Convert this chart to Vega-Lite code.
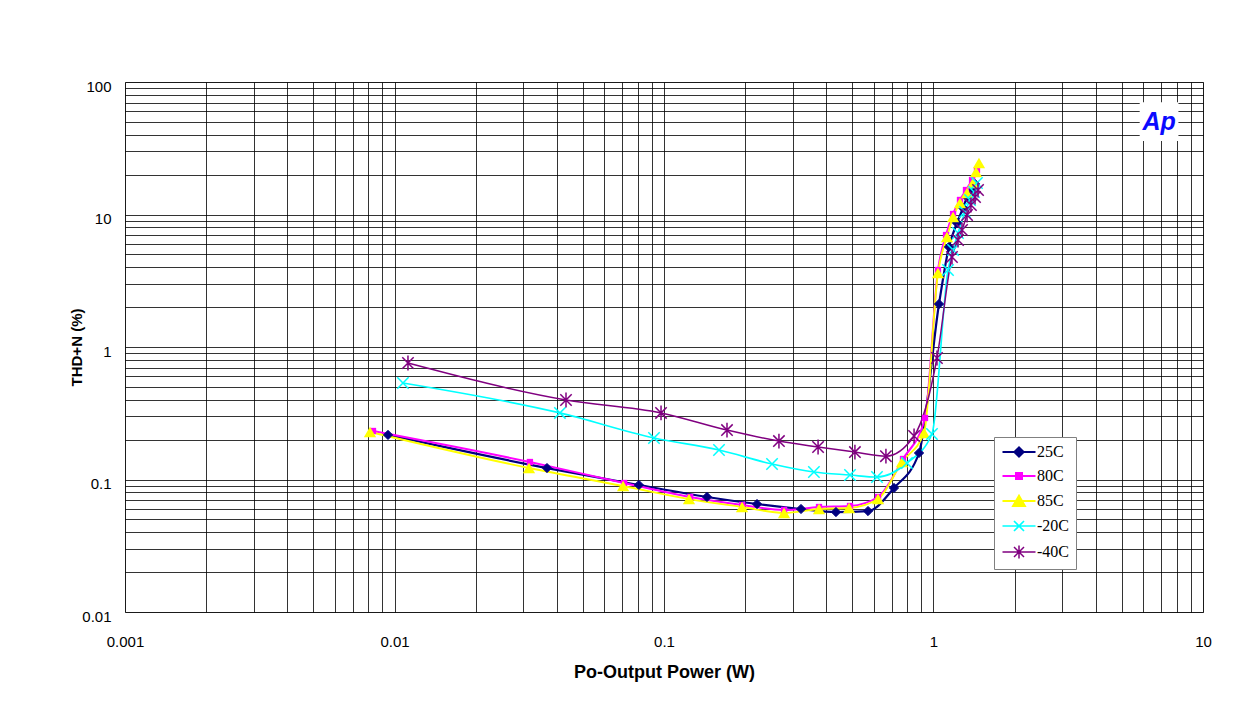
{
  "$schema": "https://vega.github.io/schema/vega-lite/v6.json",
  "width": 1078,
  "height": 530,
  "autosize": {"type": "none"},
  "padding": {"left": 125, "top": 82, "right": 40, "bottom": 106},
  "background": "white",
  "config": {"view": {"stroke": "#808080", "strokeWidth": 1}, "font": "Liberation Sans"},
  "datasets": {
    "thd": [
      {"s": "25C", "x": 0.00946, "y": 0.217},
      {"s": "25C", "x": 0.0368, "y": 0.122},
      {"s": "25C", "x": 0.0807, "y": 0.0909},
      {"s": "25C", "x": 0.1444, "y": 0.0738},
      {"s": "25C", "x": 0.2214, "y": 0.0653},
      {"s": "25C", "x": 0.3224, "y": 0.0599},
      {"s": "25C", "x": 0.4346, "y": 0.0568},
      {"s": "25C", "x": 0.5715, "y": 0.0578},
      {"s": "25C", "x": 0.7135, "y": 0.0863},
      {"s": "25C", "x": 0.8835, "y": 0.1585},
      {"s": "25C", "x": 1.048, "y": 2.11},
      {"s": "25C", "x": 1.141, "y": 5.69},
      {"s": "25C", "x": 1.222, "y": 8.63},
      {"s": "25C", "x": 1.287, "y": 11.2},
      {"s": "25C", "x": 1.332, "y": 13.55},
      {"s": "25C", "x": 1.377, "y": 15.3},
      {"s": "25C", "x": 1.426, "y": 17.0},
      {"s": "80C", "x": 0.00832, "y": 0.2323},
      {"s": "80C", "x": 0.0318, "y": 0.1355},
      {"s": "80C", "x": 0.0711, "y": 0.0941},
      {"s": "80C", "x": 0.125, "y": 0.0738},
      {"s": "80C", "x": 0.195, "y": 0.0642},
      {"s": "80C", "x": 0.279, "y": 0.0589},
      {"s": "80C", "x": 0.376, "y": 0.062},
      {"s": "80C", "x": 0.49, "y": 0.0631},
      {"s": "80C", "x": 0.6225, "y": 0.0738},
      {"s": "80C", "x": 0.7706, "y": 0.1428},
      {"s": "80C", "x": 0.93, "y": 0.2912},
      {"s": "80C", "x": 1.039, "y": 3.81},
      {"s": "80C", "x": 1.113, "y": 7.0},
      {"s": "80C", "x": 1.182, "y": 10.09},
      {"s": "80C", "x": 1.254, "y": 12.87},
      {"s": "80C", "x": 1.32, "y": 15.3},
      {"s": "80C", "x": 1.39, "y": 18.21},
      {"s": "80C", "x": 1.45, "y": 21.67},
      {"s": "85C", "x": 0.00811, "y": 0.2283},
      {"s": "85C", "x": 0.03155, "y": 0.1221},
      {"s": "85C", "x": 0.0705, "y": 0.0893},
      {"s": "85C", "x": 0.1238, "y": 0.0712},
      {"s": "85C", "x": 0.1948, "y": 0.062},
      {"s": "85C", "x": 0.2789, "y": 0.0559},
      {"s": "85C", "x": 0.376, "y": 0.0599},
      {"s": "85C", "x": 0.486, "y": 0.0609},
      {"s": "85C", "x": 0.6225, "y": 0.0712},
      {"s": "85C", "x": 0.764, "y": 0.1355},
      {"s": "85C", "x": 0.922, "y": 0.2244},
      {"s": "85C", "x": 1.039, "y": 3.62},
      {"s": "85C", "x": 1.122, "y": 6.77},
      {"s": "85C", "x": 1.182, "y": 9.57},
      {"s": "85C", "x": 1.254, "y": 12.21},
      {"s": "85C", "x": 1.332, "y": 14.53},
      {"s": "85C", "x": 1.402, "y": 17.29},
      {"s": "85C", "x": 1.438, "y": 20.94},
      {"s": "85C", "x": 1.475, "y": 24.47},
      {"s": "-20C", "x": 0.01075, "y": 0.535},
      {"s": "-20C", "x": 0.0411, "y": 0.318},
      {"s": "-20C", "x": 0.0918, "y": 0.2056},
      {"s": "-20C", "x": 0.16, "y": 0.167},
      {"s": "-20C", "x": 0.2517, "y": 0.1309},
      {"s": "-20C", "x": 0.36, "y": 0.1139},
      {"s": "-20C", "x": 0.49, "y": 0.1081},
      {"s": "-20C", "x": 0.617, "y": 0.1044},
      {"s": "-20C", "x": 0.797, "y": 0.1332},
      {"s": "-20C", "x": 0.987, "y": 0.2205},
      {"s": "-20C", "x": 1.132, "y": 3.81},
      {"s": "-20C", "x": 1.182, "y": 5.4},
      {"s": "-20C", "x": 1.233, "y": 7.25},
      {"s": "-20C", "x": 1.309, "y": 10.44},
      {"s": "-20C", "x": 1.366, "y": 12.87},
      {"s": "-20C", "x": 1.414, "y": 14.78},
      {"s": "-20C", "x": 1.45, "y": 17.29},
      {"s": "-40C", "x": 0.01122, "y": 0.757},
      {"s": "-40C", "x": 0.04329, "y": 0.398},
      {"s": "-40C", "x": 0.0975, "y": 0.318},
      {"s": "-40C", "x": 0.1713, "y": 0.236},
      {"s": "-40C", "x": 0.267, "y": 0.195},
      {"s": "-40C", "x": 0.373, "y": 0.176},
      {"s": "-40C", "x": 0.511, "y": 0.161},
      {"s": "-40C", "x": 0.666, "y": 0.15},
      {"s": "-40C", "x": 0.847, "y": 0.213},
      {"s": "-40C", "x": 1.03, "y": 0.826},
      {"s": "-40C", "x": 1.171, "y": 4.78},
      {"s": "-40C", "x": 1.233, "y": 6.42},
      {"s": "-40C", "x": 1.276, "y": 7.64},
      {"s": "-40C", "x": 1.332, "y": 9.91},
      {"s": "-40C", "x": 1.377, "y": 11.8},
      {"s": "-40C", "x": 1.426, "y": 13.55},
      {"s": "-40C", "x": 1.463, "y": 15.3}
    ],
    "logo": [{"x": 6.87, "y": 50.3, "label": "Ap"}]
  },
  "encoding": {
    "x": {
      "field": "x", "type": "quantitative",
      "scale": {"type": "log", "domain": [0.001, 10], "nice": false},
      "axis": {
        "title": "Po-Output Power (W)",
        "values": [0.001,0.002,0.003,0.004,0.005,0.006,0.007,0.008,0.009,0.01,0.02,0.03,0.04,0.05,0.06,0.07,0.08,0.09,0.1,0.2,0.3,0.4,0.5,0.6,0.7,0.8,0.9,1,2,3,4,5,6,7,8,9,10],
        "format": "~g",
        "labelExpr": "indexof([0.001,0.01,0.1,1,10], datum.value) >= 0 ? datum.label : ''",
        "grid": true, "gridColor": "#000", "gridOpacity": 0.8, "gridWidth": 1,
        "ticks": false, "domain": false,
        "labelFlush": false, "labelOverlap": false, "labelBound": false,
        "labelFont": "Liberation Sans", "labelFontSize": 15, "labelColor": "#000", "labelPadding": 22,
        "titleFont": "Liberation Sans", "titleFontSize": 18, "titleFontWeight": "bold", "titleColor": "#000", "titlePadding": 14
      }
    },
    "y": {
      "field": "y", "type": "quantitative",
      "scale": {"type": "log", "domain": [0.01, 100], "nice": false},
      "axis": {
        "title": "THD+N (%)",
        "values": [0.01,0.02,0.03,0.04,0.05,0.06,0.07,0.08,0.09,0.1,0.2,0.3,0.4,0.5,0.6,0.7,0.8,0.9,1,2,3,4,5,6,7,8,9,10,20,30,40,50,60,70,80,90,100],
        "format": "~g",
        "labelExpr": "indexof([0.01,0.1,1,10,100], datum.value) >= 0 ? datum.label : ''",
        "grid": true, "gridColor": "#000", "gridOpacity": 0.8, "gridWidth": 1,
        "ticks": false, "domain": false,
        "labelFlush": false, "labelOverlap": false, "labelBound": false,
        "labelFont": "Liberation Sans", "labelFontSize": 15, "labelColor": "#000", "labelPadding": 14, "labelOffset": 4,
        "titleFont": "Liberation Sans", "titleFontSize": 15, "titleFontWeight": "bold", "titleColor": "#000", "titlePadding": -3
      }
    }
  },
  "layer": [
    {
      "data": {"name": "logo"},
      "mark": {"type": "point", "shape": "square", "size": 1500, "filled": true, "color": "white", "opacity": 1, "strokeWidth": 0}
    },
    {
      "data": {"name": "logo"},
      "mark": {"type": "text", "font": "Liberation Sans", "fontSize": 25, "fontWeight": "bold", "fontStyle": "italic", "color": "#0A0AFF", "baseline": "middle", "align": "center"},
      "encoding": {"text": {"field": "label"}}
    },
    {
      "data": {"name": "thd"},
      "mark": {"type": "line", "interpolate": "monotone"},
      "encoding": {
        "color": {
          "field": "s", "type": "nominal",
          "scale": {"domain": ["25C", "80C", "85C", "-20C", "-40C"], "range": ["#000080", "#FF00FF", "#FFFF00", "#00FFFF", "#800080"]},
          "legend": {
            "orient": "none", "legendX": 869, "legendY": 355,
            "title": null, "fillColor": "white", "strokeColor": "#808080", "padding": 7,
            "labelFont": "Liberation Serif", "labelFontSize": 16, "labelColor": "#000",
            "symbolSize": 100, "symbolOffset": 10, "labelOffset": 10, "rowPadding": 7,
            "encode": {
              "symbols": {
                "update": {
                  "shape": {"signal": "datum.value == '25C' ? 'M-3.3,0H3.3M-0.9,0L0,-0.9L0.9,0L0,0.9Z' : datum.value == '80C' ? 'M-3.3,0H3.3M-0.6,-0.6H0.6V0.6H-0.6Z' : datum.value == '85C' ? 'M-3.3,0H3.3M-1.2,1L0,-1.1L1.2,1Z' : datum.value == '-20C' ? 'M-3.3,0H3.3M-1,-1L1,1M-1,1L1,-1' : 'M-3.3,0H3.3M-1,-1L1,1M-1,1L1,-1M0,-1.3L0,1.3'"},
                  "fill": {"signal": "scale('color', datum.value)"},
                  "stroke": {"signal": "scale('color', datum.value)"},
                  "strokeWidth": {"value": 2},
                  "size": {"value": 100},
                  "opacity": {"value": 1}
                }
              }
            }
          }
        },
        "strokeWidth": {
          "field": "s", "type": "nominal",
          "scale": {"domain": ["25C", "80C", "85C", "-20C", "-40C"], "range": [2.2, 1.5, 2.5, 2.5, 2.5]},
          "legend": null
        }
      }
    },
    {
      "data": {"name": "thd"},
      "transform": [{"filter": "datum.s == '25C'"}],
      "mark": {"type": "point", "shape": "diamond", "size": 85, "filled": true, "color": "#000080", "stroke": "#000080", "strokeWidth": 1, "opacity": 1}
    },
    {
      "data": {"name": "thd"},
      "transform": [{"filter": "datum.s == '80C'"}],
      "mark": {"type": "point", "shape": "square", "size": 40, "filled": true, "color": "#FF00FF", "opacity": 1}
    },
    {
      "data": {"name": "thd"},
      "transform": [{"filter": "datum.s == '85C'"}],
      "mark": {"type": "point", "shape": "triangle-up", "size": 150, "filled": true, "color": "#FFFF00", "opacity": 1}
    },
    {
      "data": {"name": "thd"},
      "transform": [{"filter": "datum.s == '-20C'"}],
      "mark": {"type": "point", "shape": "M-1,-1L1,1M-1,1L1,-1", "size": 130, "filled": false, "color": "#00FFFF", "strokeWidth": 1.5, "opacity": 1}
    },
    {
      "data": {"name": "thd"},
      "transform": [{"filter": "datum.s == '-40C'"}],
      "mark": {"type": "point", "shape": "M-1,-1L1,1M-1,1L1,-1M0,-1.3L0,1.3", "size": 130, "filled": false, "color": "#800080", "strokeWidth": 1.5, "opacity": 1}
    }
  ]
}
